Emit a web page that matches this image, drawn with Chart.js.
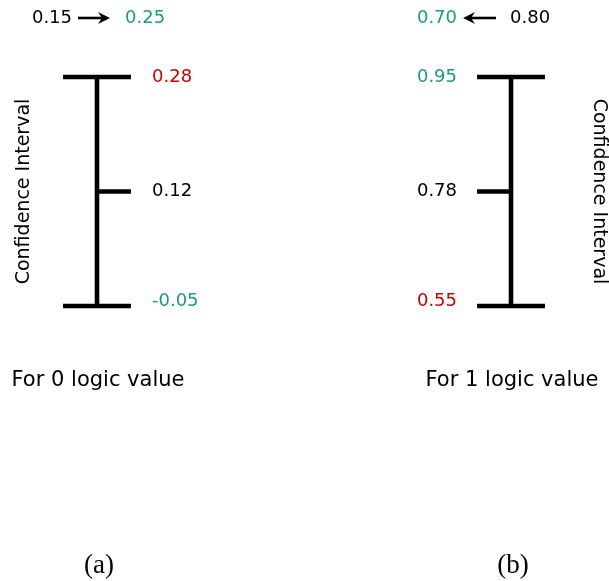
<!DOCTYPE html>
<html lang="en">
<head>
  <meta charset="UTF-8">
  <title>Confidence intervals for logic values</title>
  <script src="https://cdn.jsdelivr.net/npm/chart.js"></script>
  <style>
    html, body { margin: 0; padding: 0; background: #fff; }
    canvas { display: block; }
  </style>
</head>
<body>
  <canvas id="ciChart" width="609" height="581"></canvas>
  <script>
    // Data
    const panels = [0, 1];
    const captions = ['For 0 logic value', 'For 1 logic value'];
    const subLabels = ['(a)', '(b)'];
    const upperValues = [0.28, 0.95];
    const midValues = [0.12, 0.78];
    const lowerValues = [-0.05, 0.55];
    const shiftFrom = [0.15, 0.80];
    const shiftTo = [0.25, 0.70];
    // schematic (not to scale) rank of the three marks on each bar
    const levels = { lower: 0, mid: 1, upper: 2 };

    // Styles
    const GREEN = '#1b9e77';
    const RED = '#cc0000';
    const upperColors = [RED, GREEN];
    const lowerColors = [GREEN, RED];
    const shiftToColors = [GREEN, GREEN];
    const FONT = "'DejaVu Sans', sans-serif";
    const CAP_HALF = 0.082;   // in x units
    const LINE_W = 4.6;

    // Build the line segments of each error bar
    const datasets = [];
    function seg(points) {
      datasets.push({
        data: points,
        showLine: true,
        borderColor: '#000',
        borderWidth: LINE_W,
        borderCapStyle: 'butt',
        pointRadius: 0,
        fill: false
      });
    }
    panels.forEach((p, i) => {
      seg([{ x: p, y: levels.lower }, { x: p, y: levels.upper }]);
      seg([{ x: p - CAP_HALF, y: levels.upper }, { x: p + CAP_HALF, y: levels.upper }]);
      seg([{ x: p - CAP_HALF, y: levels.lower }, { x: p + CAP_HALF, y: levels.lower }]);
      // middle tick points right on (a), left on (b)
      const dir = i === 0 ? 1 : -1;
      seg([{ x: p, y: levels.mid }, { x: p + dir * CAP_HALF, y: levels.mid }]);
    });

    function drawArrow(ctx, x1, x2, y) {
      const dir = Math.sign(x2 - x1);
      ctx.save();
      ctx.strokeStyle = '#000';
      ctx.fillStyle = '#000';
      ctx.lineWidth = 2.6;
      ctx.beginPath();
      ctx.moveTo(x1, y);
      ctx.lineTo(x2 - dir * 6, y);
      ctx.stroke();
      ctx.beginPath();
      ctx.moveTo(x2, y);
      ctx.lineTo(x2 - dir * 12, y - 6);
      ctx.lineTo(x2 - dir * 8, y);
      ctx.lineTo(x2 - dir * 12, y + 6);
      ctx.closePath();
      ctx.fill();
      ctx.restore();
    }

    const labelPlugin = {
      id: 'labels',
      afterDatasetsDraw(chart) {
        const ctx = chart.ctx;
        const xs = chart.scales.x, ys = chart.scales.y;
        const fmt = v => v.toFixed(2);
        ctx.save();
        ctx.textBaseline = 'middle';
        panels.forEach((p, i) => {
          const cx = xs.getPixelForValue(p);
          const yU = ys.getPixelForValue(levels.upper);
          const yM = ys.getPixelForValue(levels.mid);
          const yL = ys.getPixelForValue(levels.lower);

          // value labels beside the bar
          ctx.font = '18px ' + FONT;
          const left = i === 0;
          ctx.textAlign = left ? 'left' : 'right';
          const lx = left ? cx + 55 : cx - 54;
          ctx.fillStyle = upperColors[i];
          ctx.fillText(fmt(upperValues[i]), lx, yU);
          ctx.fillStyle = '#000';
          ctx.fillText(fmt(midValues[i]), lx, yM);
          ctx.fillStyle = lowerColors[i];
          ctx.fillText(fmt(lowerValues[i]), lx, yL - 5);

          // shift annotation on top
          const ty = yU - 59;
          if (left) {
            ctx.textAlign = 'right';
            ctx.fillStyle = '#000';
            ctx.fillText(fmt(shiftFrom[i]), cx - 25, ty);
            drawArrow(ctx, cx - 19, cx + 13, ty);
            ctx.textAlign = 'left';
            ctx.fillStyle = shiftToColors[i];
            ctx.fillText(fmt(shiftTo[i]), cx + 28, ty);
          } else {
            ctx.textAlign = 'left';
            ctx.fillStyle = '#000';
            ctx.fillText(fmt(shiftFrom[i]), cx - 1, ty);
            drawArrow(ctx, cx - 15, cx - 48, ty);
            ctx.textAlign = 'right';
            ctx.fillStyle = shiftToColors[i];
            ctx.fillText(fmt(shiftTo[i]), cx - 54, ty);
          }

          // rotated axis label
          ctx.save();
          ctx.font = '19px ' + FONT;
          ctx.fillStyle = '#000';
          ctx.textAlign = 'center';
          if (left) {
            ctx.translate(cx - 73, yM);
            ctx.rotate(-Math.PI / 2);
          } else {
            ctx.translate(cx + 88, yM);
            ctx.rotate(Math.PI / 2);
          }
          ctx.fillText('Confidence Interval', 0, 0);
          ctx.restore();

          // captions
          ctx.font = '21px ' + FONT;
          ctx.fillStyle = '#000';
          ctx.textAlign = 'center';
          ctx.fillText(captions[i], cx + 1, yL + 75);
          ctx.font = "27px 'Liberation Serif', serif";
          ctx.fillText(subLabels[i], cx + 2, yL + 260);
        });
        ctx.restore();
      }
    };

    new Chart(document.getElementById('ciChart'), {
      type: 'scatter',
      data: { datasets },
      options: {
        responsive: false,
        animation: false,
        layout: { padding: 0 },
        plugins: { legend: { display: false }, tooltip: { enabled: false } },
        scales: {
          x: { type: 'linear', display: false, min: -0.2343, max: 1.2367 },
          y: { type: 'linear', display: false, min: -2.4017, max: 2.6725 }
        }
      },
      plugins: [labelPlugin]
    });
  </script>
</body>
</html>
